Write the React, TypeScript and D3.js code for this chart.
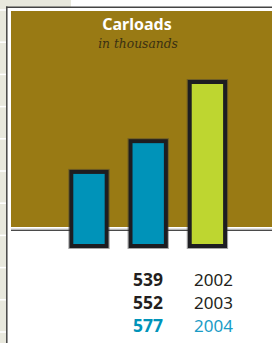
import React from "react";
import * as d3 from "d3";

const years = ["2002", "2003", "2004"];
const carloads = [539, 552, 577];
const title = "Carloads";
const subtitle = "in thousands";

const W = 272;
const H = 343;

export default function App() {
  const x = d3.scaleBand<string>().domain(years).range([69.3, 227.1]).paddingInner(0.335).paddingOuter(0);
  const y = d3.scaleLinear().domain([506, 577]).range([248, 80]);
  const sw = 4;
  const ticks = d3.range(10, H, 32.2);
  const font = "'Noto Sans', 'Open Sans', sans-serif";
  const blue = "#0093b9";
  const green = "#bed630";
  const olive = "#997a14";
  const dark = "#1d1d21";
  return (
    <svg width={W} height={H} style={{ position: "absolute", left: 0, top: 0, background: "#fff" }}>
      <rect x={0} y={0} width={71} height={7} fill="#e8e8dd" />
      <rect x={0} y={0} width={6} height={H} fill="#e8e8dd" />
      {ticks.map((t, i) => (
        <line key={i} x1={0} x2={6} y1={t} y2={t} stroke="#fff" strokeWidth={1.5} />
      ))}
      <line x1={6.8} x2={6.8} y1={6.5} y2={H} stroke="#444" strokeWidth={1.5} />
      <line x1={6} x2={W} y1={7.3} y2={7.3} stroke="#444" strokeWidth={1.5} />
      <rect x={11} y={11} width={W - 11} height={216} fill={olive} />
      <line x1={11} x2={W} y1={230.3} y2={230.3} stroke="#4a4a4a" strokeWidth={1.5} />
      <line x1={11} x2={W} y1={229} y2={229} stroke="#c8c8c8" strokeWidth={1} />
      <text x={137} y={29.5} textAnchor="middle" fill="#fff" fontFamily={font} fontWeight={700} fontSize={16}>
        {title}
      </text>
      <text x={138} y={48} textAnchor="middle" fill="#3b3112" fontFamily="'DejaVu Serif', 'Liberation Serif', serif" fontStyle="italic" fontSize={12.3}>
        {subtitle}
      </text>
      {years.map((yr, i) => {
        const x0 = x(yr)!;
        const top = y(carloads[i]);
        return (
          <g key={yr}>
            <rect x={x0 - 0.5} y={top - 0.5} width={x.bandwidth() + 1} height={248 - top + 1} fill="none" stroke="rgba(60,60,60,0.45)" strokeWidth={1} />
            <rect
              x={x0 + sw / 2}
              y={top + sw / 2}
              width={x.bandwidth() - sw}
              height={248 - top - sw}
              fill={i === years.length - 1 ? green : blue}
              stroke={dark}
              strokeWidth={sw}
            />
          </g>
        );
      })}
      {years.map((yr, i) => {
        const base = 286 + i * 22.8;
        const last = i === years.length - 1;
        return (
          <g key={"l" + yr}>
            <text x={163} y={base} textAnchor="end" fontFamily={font} fontWeight={700} fontSize={17.5} fill={last ? blue : "#231f20"}>
              {carloads[i]}
            </text>
            <text x={194} y={base} fontFamily={font} fontSize={17} fill={last ? "#1a9cc6" : "#231f20"}>
              {yr}
            </text>
          </g>
        );
      })}
    </svg>
  );
}
